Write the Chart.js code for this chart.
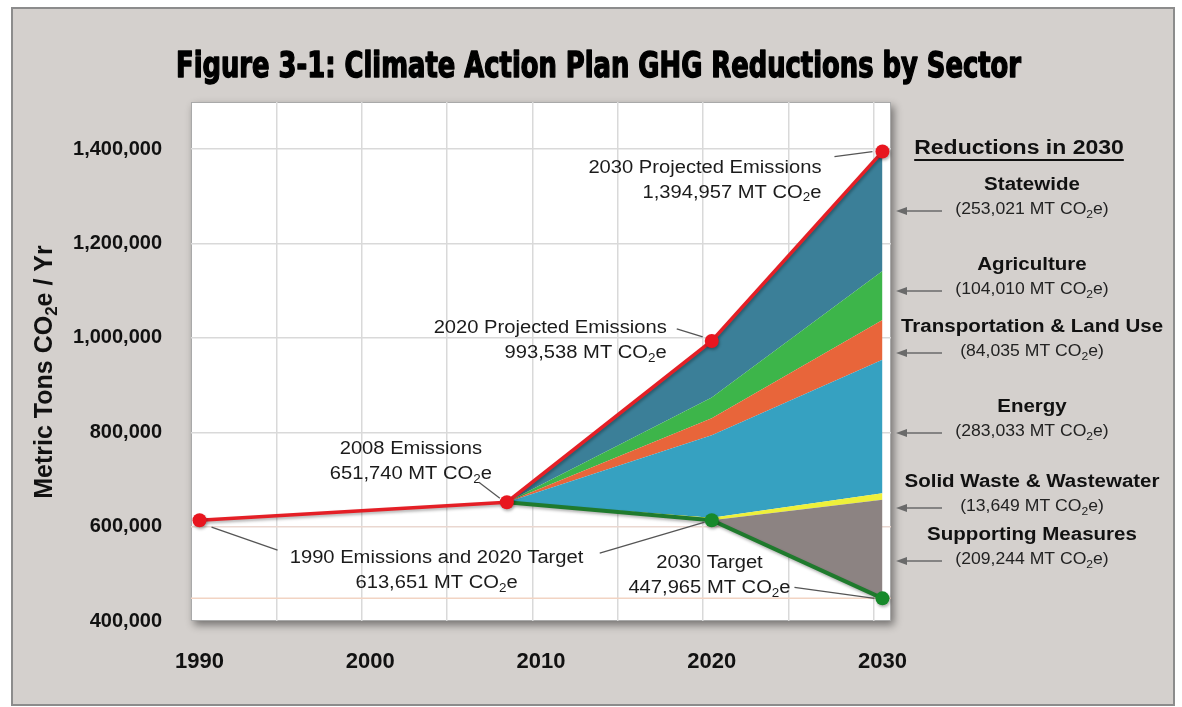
<!DOCTYPE html>
<html>
<head>
<meta charset="utf-8">
<title>Climate Action Plan GHG Reductions by Sector</title>
<script src="https://cdn.jsdelivr.net/npm/chart.js@4.4.1/dist/chart.umd.min.js"></script>
<style>
	html, body { margin: 0; padding: 0; background: #fff; }
	canvas { display: block; }
</style>
</head>
<body>
<canvas id="ghgChart" width="1182" height="707"></canvas>
<script>
// emissions history + projections (MT CO2e)
const emissionYears = [1990, 2008, 2020, 2030];
const emissionValues = [613651, 651740, 993538, 1394957];

// reduction target path, same years as the sector bands
const targetYears = [2008, 2020, 2030];
const targetValues = [651740, 613651, 447965];

// sectors, listed top of stack first
const sectors = ['Statewide', 'Agriculture', 'Transportation & Land Use', 'Energy', 'Solid Waste & Wastewater', 'Supporting Measures'];
const reductions2020 = [119887, 44000, 36000, 175000, 5000, 0];
const reductions2030 = [253021, 104010, 84035, 283033, 13649, 209244];

// axis ticks
const yearTicks = [1990, 2000, 2010, 2020, 2030];
const gridYears = [1994.5, 1999.5, 2004.5, 2009.5, 2014.5, 2019.5, 2024.5, 2029.5];
const valueTicks = [400000, 600000, 800000, 1000000, 1200000, 1400000];

const sectorColors = ['#3b7f98', '#3db54a', '#e8653a', '#36a1c1', '#eef03a', '#8c8382'];
const FONT = '"Liberation Sans", Arial, Helvetica, sans-serif';
const TEXT = '#1b1b1b';

const fmt = (v) => v.toLocaleString('en-US');
const toPoints = (xs, ys) => xs.map((x, i) => ({ x, y: ys[i] }));

// stack the bands on top of the target line, bottom sector first
const bandDatasets = [];
let running = targetValues.slice();
for (let i = sectors.length - 1; i >= 0; i--) {
	const steps = [0, reductions2020[i], reductions2030[i]];
	running = running.map((v, k) => v + steps[k]);
	bandDatasets.push({
		label: sectors[i],
		data: toPoints(targetYears, running),
		fill: '-1',
		backgroundColor: sectorColors[i],
		borderWidth: 0,
		pointRadius: 0,
		order: 2,
	});
}

const targetDataset = {
	label: 'Target',
	data: toPoints(targetYears, targetValues),
	borderColor: '#1f7a2d',
	borderWidth: 4,
	pointRadius: [0, 7, 7],
	pointBackgroundColor: '#17892b',
	pointBorderWidth: 0,
	fill: false,
	clip: false,
	order: 1,
	shadow: true,
};

const emissionDataset = {
	label: 'Emissions',
	data: toPoints(emissionYears, emissionValues),
	borderColor: '#e41f26',
	borderWidth: 3.5,
	pointRadius: 7,
	pointBackgroundColor: '#e8161f',
	pointBorderWidth: 0,
	fill: false,
	clip: false,
	order: 0,
	shadow: true,
};

// text with {2} style subscripts, optionally stretched horizontally
function drawRich(ctx, str, x, y, o) {
	const size = o.size;
	const sx = o.sx || 1;
	const weight = o.weight || 'normal';
	const parts = str.split(/\{(\d)\}/);
	const fontN = `${weight} ${size}px ${FONT}`;
	const fontS = `${weight} ${Math.round(size * 0.66)}px ${FONT}`;
	let w = 0;
	parts.forEach((p, i) => {
		ctx.font = i % 2 ? fontS : fontN;
		w += ctx.measureText(p).width;
	});
	const total = w * sx;
	const left = o.align === 'right' ? x - total : o.align === 'center' ? x - total / 2 : x;
	ctx.save();
	ctx.translate(left, y);
	ctx.scale(sx, 1);
	ctx.fillStyle = o.color || TEXT;
	ctx.textAlign = 'left';
	ctx.textBaseline = 'middle';
	let cx = 0;
	parts.forEach((p, i) => {
		ctx.font = i % 2 ? fontS : fontN;
		ctx.fillText(p, cx, i % 2 ? size * 0.3 : 0);
		cx += ctx.measureText(p).width;
	});
	ctx.restore();
	return { left, width: total };
}

function leader(ctx, x1, y1, x2, y2) {
	ctx.save();
	ctx.strokeStyle = '#555';
	ctx.lineWidth = 1.3;
	ctx.beginPath();
	ctx.moveTo(x1, y1);
	ctx.lineTo(x2, y2);
	ctx.stroke();
	ctx.restore();
}

function arrowLeft(ctx, xFrom, xTo, y) {
	ctx.save();
	ctx.strokeStyle = '#6a6a6a';
	ctx.fillStyle = '#6a6a6a';
	ctx.lineWidth = 1.6;
	ctx.beginPath();
	ctx.moveTo(xFrom, y);
	ctx.lineTo(xTo + 8, y);
	ctx.stroke();
	ctx.beginPath();
	ctx.moveTo(xTo, y);
	ctx.lineTo(xTo + 11, y - 4);
	ctx.lineTo(xTo + 11, y + 4);
	ctx.closePath();
	ctx.fill();
	ctx.restore();
}

// frame, white plot panel and its drop shadow
const backdrop = {
	id: 'backdrop',
	beforeDraw(chart) {
		const { ctx, chartArea: a } = chart;
		ctx.save();
		ctx.fillStyle = '#fff';
		ctx.fillRect(0, 0, chart.width, chart.height);
		ctx.fillStyle = '#d4d0cd';
		ctx.fillRect(12, 8, 1162, 697);
		ctx.strokeStyle = '#8c8c8c';
		ctx.lineWidth = 2;
		ctx.strokeRect(12, 8, 1162, 697);

		ctx.shadowColor = 'rgba(0,0,0,0.45)';
		ctx.shadowBlur = 8;
		ctx.shadowOffsetX = 3;
		ctx.shadowOffsetY = 4;
		ctx.fillStyle = '#fff';
		ctx.fillRect(a.left, a.top, a.right - a.left, a.bottom - a.top);
		ctx.restore();

		ctx.save();
		ctx.strokeStyle = '#a9a9a9';
		ctx.lineWidth = 1;
		ctx.strokeRect(a.left + 0.5, a.top + 0.5, a.right - a.left - 1, a.bottom - a.top - 1);
		ctx.restore();
	},
	beforeDatasetsDraw(chart) {
		// faint reference line at the 2030 target level
		const { ctx, chartArea: a, scales } = chart;
		const y = scales.y.getPixelForValue(targetValues[2]);
		ctx.save();
		ctx.strokeStyle = '#f2d4c3';
		ctx.lineWidth = 1.5;
		ctx.beginPath();
		ctx.moveTo(a.left, y);
		ctx.lineTo(a.right, y);
		ctx.stroke();
		ctx.restore();
	},
};

// soft shadow under the emissions and target lines
const lineShadow = {
	id: 'lineShadow',
	beforeDatasetDraw(chart, args) {
		if (!chart.data.datasets[args.index].shadow) return;
		const ctx = chart.ctx;
		ctx.save();
		ctx.shadowColor = 'rgba(0,0,0,0.3)';
		ctx.shadowBlur = 3;
		ctx.shadowOffsetX = 1;
		ctx.shadowOffsetY = 2;
	},
	afterDatasetDraw(chart, args) {
		if (!chart.data.datasets[args.index].shadow) return;
		chart.ctx.restore();
	},
};

// title, axis title, call-outs and the 2030 reductions list
const labels = {
	id: 'labels',
	afterDraw(chart) {
		const { ctx, scales } = chart;
		const pt = (year, value) => ({ x: scales.x.getPixelForValue(year), y: scales.y.getPixelForValue(value) });

		// title, squeezed into a condensed heavy look
		const title = 'Figure 3-1: Climate Action Plan GHG Reductions by Sector';
		ctx.save();
		ctx.font = `bold 35px "DejaVu Sans Condensed", "DejaVu Sans", ${FONT}`;
		const tw = ctx.measureText(title).width;
		ctx.translate(176, 77);
		ctx.scale(845 / tw, 1);
		ctx.fillStyle = '#000';
		ctx.strokeStyle = '#000';
		ctx.lineWidth = 1.4;
		ctx.lineJoin = 'round';
		ctx.textBaseline = 'alphabetic';
		ctx.fillText(title, 0, 0);
		ctx.strokeText(title, 0, 0);
		ctx.restore();

		// y axis title
		ctx.save();
		ctx.translate(45, 372);
		ctx.rotate(-Math.PI / 2);
		drawRich(ctx, 'Metric Tons CO{2}e / Yr', 0, 0, { size: 25, weight: 'bold', align: 'center', color: '#111' });
		ctx.restore();

		// call-outs
		const unit = ' MT CO{2}e';
		const e = (i) => pt(emissionYears[i], emissionValues[i]);
		const t = (i) => pt(targetYears[i], targetValues[i]);
		const callouts = [
			{ p: e(3), lines: ['2030 Projected Emissions', fmt(emissionValues[3]) + unit], dx: -61, dy: 16, align: 'right', lead: [-48, 5, -10, 0] },
			{ p: e(2), lines: ['2020 Projected Emissions', fmt(emissionValues[2]) + unit], dx: -45, dy: -13, align: 'right', lead: [-35, -12, -9, -4] },
			{ p: e(1), lines: ['2008 Emissions', fmt(emissionValues[1]) + unit], dx: -96, dy: -53, align: 'center', lead: [-28, -20, -7, -4] },
			{ p: e(0), lines: ['1990 Emissions and 2020 Target', fmt(emissionValues[0]) + unit], dx: 237, dy: 38, align: 'center', lead: [12, 7, 78, 30] },
			{ p: t(2), lines: ['2030 Target', fmt(targetValues[2]) + unit], dx: -173, dy: -35, align: 'center', lead: [-88, -11, -8, 0] },
		];
		callouts.forEach((c) => {
			c.lines.forEach((s, k) => {
				drawRich(ctx, s, c.p.x + c.dx, c.p.y + c.dy + k * 25, { size: 18, sx: 1.12, align: c.align });
			});
			const l = c.lead;
			leader(ctx, c.p.x + l[0], c.p.y + l[1], c.p.x + l[2], c.p.y + l[3]);
		});
		// second leader from the 1990 label to the 2020 target point
		const t20 = t(1);
		leader(ctx, t20.x - 112, t20.y + 33, t20.x - 7, t20.y + 2);

		// reductions list
		const cx = 1032;
		const head = drawRich(ctx, 'Reductions in 2030', 1019, 148, { size: 20, sx: 1.15, weight: 'bold', align: 'center', color: '#111' });
		ctx.fillStyle = '#111';
		ctx.fillRect(head.left, 159, head.width, 2);
		const rowY = [185, 265, 327, 407, 482, 535];
		sectors.forEach((name, i) => {
			drawRich(ctx, name, cx, rowY[i], { size: 18, sx: 1.14, weight: 'bold', align: 'center', color: '#111' });
			drawRich(ctx, '(' + fmt(reductions2030[i]) + unit + ')', cx, rowY[i] + 25, { size: 16, sx: 1.1, align: 'center', color: '#222' });
			arrowLeft(ctx, 942, 896, rowY[i] + 26);
		});
	},
};

const ctx = document.getElementById('ghgChart').getContext('2d');
new Chart(ctx, {
	type: 'line',
	data: {
		datasets: [targetDataset, ...bandDatasets, emissionDataset],
	},
	options: {
		responsive: false,
		animation: false,
		events: [],
		devicePixelRatio: 1,
		elements: { line: { tension: 0 } },
		layout: { padding: { left: 0, top: 102, right: 291, bottom: 0 } },
		plugins: {
			legend: { display: false },
			tooltip: { enabled: false },
		},
		scales: {
			x: {
				type: 'linear',
				min: 1989.5,
				max: 2030.5,
				afterBuildTicks: (s) => {
					s.ticks = [...yearTicks, ...gridYears].sort((a, b) => a - b).map((v) => ({ value: v }));
				},
				afterFit: (s) => { s.height = 86; },
				ticks: {
					autoSkip: false,
					maxRotation: 0,
					padding: 28,
					color: '#111',
					font: { family: FONT, size: 22, weight: 'bold' },
					callback: (v) => (yearTicks.includes(v) ? String(v) : ''),
				},
				grid: {
					drawTicks: false,
					lineWidth: 1.5,
					color: (c) => (c.tick && gridYears.includes(c.tick.value) ? '#d9d9d9' : 'rgba(0,0,0,0)'),
				},
				border: { display: false },
			},
			y: {
				min: 400000,
				max: 1500000,
				afterBuildTicks: (s) => {
					s.ticks = valueTicks.map((v) => ({ value: v }));
				},
				afterFit: (s) => { s.width = 191; },
				ticks: {
					padding: 29,
					color: '#111',
					font: { family: FONT, size: 20, weight: 'bold' },
					callback: (v) => fmt(v),
				},
				grid: {
					drawTicks: false,
					lineWidth: 1.5,
					color: (c) => {
						if (!c.tick || c.tick.value === 400000) return 'rgba(0,0,0,0)';
						return c.tick.value === 600000 ? '#ead7d0' : '#d9d9d9';
					},
				},
				border: { display: false },
			},
		},
	},
	plugins: [backdrop, lineShadow, labels],
});
</script>
</body>
</html>
